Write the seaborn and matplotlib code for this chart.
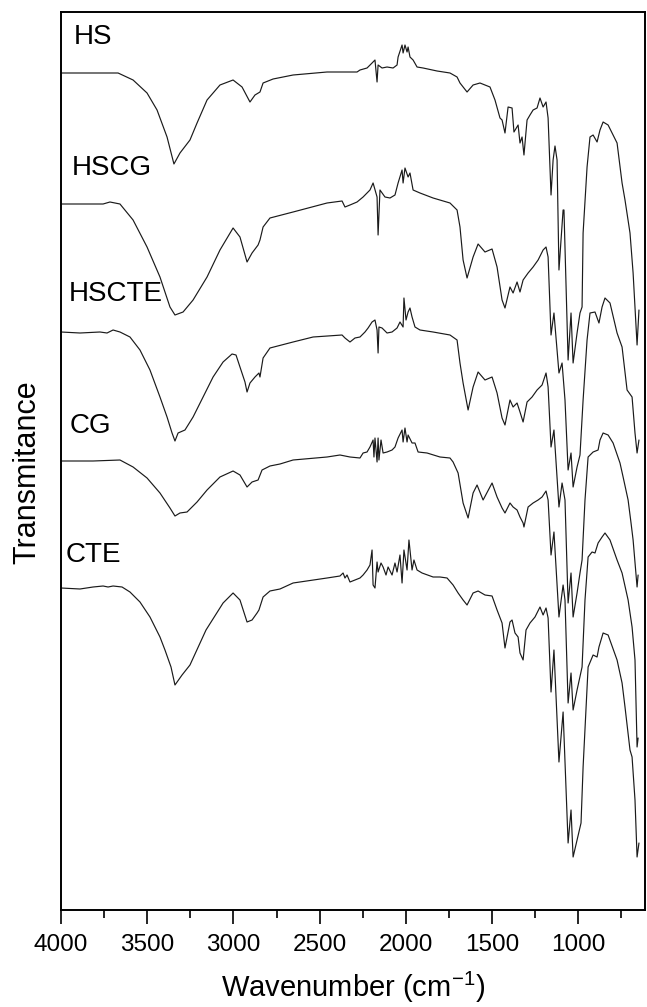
import numpy as np
import pandas as pd
import matplotlib
matplotlib.use("Agg")
import matplotlib.pyplot as plt
import seaborn as sns

# ---------------- data ----------------
hs_wn = [4000, 3850, 3669, 3582, 3501, 3443, 3385, 3345, 3310, 3252, 3211, 3153, 3078, 3002, 2950, 2904,
         2875, 2846, 2828, 2770, 2654, 2457, 2364, 2283, 2266, 2225, 2196, 2179, 2167, 2161, 2138, 2109,
         2074, 2051, 2045, 2022, 2016, 2005, 1993, 1987, 1976, 1958, 1935, 1900, 1819, 1744, 1703, 1686,
         1645, 1610, 1570, 1512, 1483, 1454, 1442, 1425, 1407, 1384, 1373, 1349, 1338, 1326, 1315, 1297,
         1280, 1262, 1239, 1222, 1204, 1187, 1175, 1158, 1146, 1135, 1123, 1112, 1088, 1083, 1059, 1042,
         1030, 1007, 990, 978, 972, 949, 932, 914, 891, 874, 856, 827, 775, 746, 729, 700, 682, 659, 648]
hs_t = [83.7, 83.7, 83.7, 83.0, 81.7, 80.0, 77.3, 74.6, 75.7, 77.0, 78.7, 81.0, 82.5, 83.0, 82.3, 80.8,
        81.5, 81.8, 82.7, 83.1, 83.5, 83.8, 83.8, 83.8, 84.0, 84.2, 84.7, 85.0, 82.8, 84.5, 84.2, 84.3,
        84.2, 84.5, 85.3, 86.5, 85.7, 86.5, 85.8, 86.3, 85.3, 85.0, 84.3, 84.2, 83.9, 83.7, 83.3, 82.7,
        81.8, 82.5, 82.7, 82.3, 81.0, 79.2, 79.0, 77.7, 80.3, 80.2, 77.8, 78.5, 76.7, 77.3, 75.5, 79.0,
        79.5, 80.0, 80.2, 81.2, 80.3, 80.8, 79.2, 71.5, 75.0, 76.4, 75.0, 64.0, 70.0, 70.0, 55.0, 59.7,
        54.7, 57.7, 59.7, 60.3, 67.7, 74.3, 77.3, 77.5, 76.8, 78.0, 78.8, 78.5, 76.7, 72.7, 71.0, 67.7,
        63.7, 56.5, 60.0]

hscg_wn = [4000, 3756, 3716, 3658, 3582, 3501, 3426, 3368, 3339, 3292, 3234, 3153, 3078, 3002, 2962, 2921,
           2892, 2857, 2846, 2828, 2788, 2654, 2457, 2370, 2353, 2324, 2283, 2248, 2208, 2190, 2167, 2161,
           2150, 2121, 2092, 2063, 2045, 2022, 2016, 2005, 1987, 1976, 1958, 1918, 1842, 1744, 1703, 1686,
           1668, 1645, 1610, 1581, 1541, 1500, 1471, 1442, 1425, 1396, 1378, 1355, 1338, 1320, 1291, 1262,
           1233, 1204, 1187, 1175, 1158, 1141, 1112, 1094, 1077, 1059, 1042, 1030, 1007, 990, 972, 949,
           932, 903, 880, 862, 845, 816, 775, 746, 717, 688, 671, 659, 648]
hscg_t = [70.6, 70.6, 70.8, 70.6, 69.0, 66.3, 63.3, 60.3, 59.5, 59.8, 61.0, 63.3, 66.0, 68.2, 67.3, 64.8,
          65.7, 66.5, 67.0, 68.3, 69.2, 69.8, 70.7, 70.9, 70.3, 70.5, 70.8, 71.3, 72.0, 72.7, 71.3, 67.5,
          72.0, 71.3, 71.2, 71.5, 72.7, 74.0, 72.7, 74.2, 73.3, 73.7, 72.0, 71.7, 71.2, 70.7, 70.0, 68.3,
          65.0, 63.2, 65.3, 66.6, 65.8, 66.1, 64.3, 61.0, 60.2, 62.3, 61.7, 62.8, 61.8, 63.0, 63.7, 64.3,
          65.0, 66.0, 66.3, 65.3, 57.5, 59.7, 53.7, 54.7, 51.0, 44.0, 45.7, 42.3, 44.3, 45.5, 51.0, 57.0,
          59.7, 59.8, 58.7, 60.3, 61.2, 60.7, 57.7, 56.3, 52.0, 51.3, 47.7, 45.7, 47.0]

hscte_wn = [4000, 3890, 3774, 3733, 3698, 3658, 3600, 3542, 3484, 3426, 3385, 3356, 3339, 3321, 3281, 3234,
            3176, 3118, 3060, 3008, 2985, 2962, 2933, 2921, 2904, 2875, 2852, 2846, 2828, 2788, 2654, 2538,
            2370, 2353, 2324, 2295, 2266, 2237, 2219, 2196, 2179, 2167, 2161, 2156, 2138, 2109, 2080, 2051,
            2034, 2016, 2011, 1999, 1987, 1976, 1964, 1947, 1918, 1842, 1744, 1703, 1686, 1668, 1639, 1610,
            1581, 1541, 1500, 1471, 1442, 1425, 1396, 1378, 1355, 1338, 1320, 1297, 1268, 1239, 1210, 1187,
            1175, 1158, 1141, 1112, 1094, 1077, 1059, 1042, 1030, 1007, 990, 978, 961, 943, 914, 885,
            874, 856, 827, 798, 758, 740, 711, 694, 682, 659, 653]
hscte_t = [57.8, 57.7, 57.8, 57.7, 58.0, 57.8, 57.3, 56.0, 54.0, 51.3, 49.3, 47.7, 46.9, 47.7, 48.0, 49.3,
           51.3, 53.3, 54.8, 55.6, 55.5, 54.3, 52.8, 51.8, 52.7, 53.3, 53.7, 53.3, 55.2, 56.2, 56.8, 57.3,
           57.5, 57.2, 56.8, 57.2, 57.3, 57.8, 58.2, 58.8, 59.0, 58.0, 55.7, 58.3, 58.2, 57.7, 57.8, 58.2,
           58.8, 58.3, 61.2, 59.0, 59.8, 60.2, 59.3, 58.3, 58.0, 57.8, 57.5, 57.0, 54.7, 52.7, 50.0, 52.3,
           53.8, 53.0, 53.3, 51.7, 49.2, 48.5, 51.0, 50.3, 50.7, 49.8, 48.8, 50.8, 51.3, 52.0, 52.5, 53.7,
           52.3, 46.3, 48.0, 40.3, 42.7, 41.0, 30.7, 33.7, 29.3, 31.7, 33.7, 35.0, 41.0, 45.3, 45.8, 46.0,
           47.0, 47.7, 47.5, 46.7, 44.7, 43.3, 41.0, 38.7, 37.0, 32.3, 33.5]

cg_wn = [4000, 3814, 3658, 3582, 3501, 3426, 3368, 3339, 3310, 3269, 3211, 3153, 3078, 3002, 2962, 2921,
         2892, 2857, 2834, 2788, 2730, 2654, 2457, 2382, 2324, 2266, 2248, 2225, 2208, 2190, 2185, 2179,
         2167, 2161, 2156, 2144, 2132, 2109, 2080, 2063, 2045, 2022, 2016, 2005, 1993, 1987, 1964, 1947,
         1929, 1877, 1802, 1744, 1726, 1697, 1668, 1639, 1610, 1587, 1552, 1500, 1471, 1442, 1425, 1396,
         1378, 1355, 1338, 1320, 1315, 1291, 1262, 1233, 1210, 1187, 1175, 1158, 1141, 1112, 1088, 1077,
         1059, 1042, 1030, 1007, 978, 961, 943, 920, 903, 885, 862, 845, 816, 775, 746, 711, 688, 671,
         659, 653]
cg_t = [44.9, 44.9, 45.0, 44.3, 43.2, 41.7, 40.2, 39.4, 39.7, 39.8, 40.8, 42.0, 43.3, 43.9, 43.5, 42.3,
        42.8, 43.0, 44.0, 44.4, 44.6, 45.0, 45.3, 45.5, 45.3, 45.2, 45.7, 45.8, 46.3, 47.0, 45.3, 47.2,
        44.8, 47.2, 45.0, 47.0, 45.7, 45.8, 46.0, 46.3, 47.2, 48.0, 46.8, 48.2, 46.8, 47.5, 46.7, 46.7,
        45.8, 45.7, 45.3, 45.2, 44.8, 43.7, 40.7, 39.2, 41.7, 42.5, 41.0, 42.7, 41.3, 40.2, 39.7, 40.7,
        40.3, 40.0, 39.3, 38.7, 38.3, 40.3, 40.7, 41.0, 41.3, 41.9, 41.0, 35.5, 37.8, 29.3, 32.5, 31.0,
        20.7, 23.7, 20.0, 22.0, 24.3, 31.0, 35.3, 35.8, 35.7, 36.7, 37.3, 37.7, 37.0, 35.0, 33.7, 31.0,
        28.3, 25.0, 16.3, 17.2]

cte_wn = [4000, 3890, 3814, 3756, 3727, 3698, 3646, 3600, 3542, 3484, 3426, 3397, 3362, 3339, 3298, 3252,
          3159, 3060, 3002, 2962, 2921, 2892, 2863, 2852, 2828, 2788, 2730, 2654, 2457, 2382, 2364, 2353,
          2341, 2324, 2295, 2266, 2248, 2225, 2208, 2196, 2190, 2179, 2167, 2161, 2144, 2132, 2115, 2103,
          2080, 2063, 2051, 2034, 2022, 2011, 1993, 1982, 1964, 1953, 1935, 1906, 1842, 1802, 1761, 1726,
          1697, 1668, 1645, 1610, 1581, 1541, 1500, 1471, 1442, 1425, 1396, 1384, 1367, 1349, 1338, 1320,
          1303, 1280, 1251, 1222, 1204, 1187, 1175, 1158, 1141, 1112, 1088, 1059, 1042, 1030, 1007, 984,
          972, 943, 914, 891, 880, 856, 827, 775, 746, 729, 700, 688, 671, 659, 648]
cte_t = [32.2, 32.1, 32.3, 32.4, 32.3, 32.4, 32.3, 31.8, 30.8, 29.3, 27.3, 26.0, 24.3, 22.5, 23.5, 24.5,
         28.0, 30.7, 31.7, 31.0, 28.8, 29.0, 29.7, 30.0, 31.3, 31.9, 32.1, 32.7, 33.2, 33.4, 33.7, 33.2,
         33.5, 32.8, 33.0, 33.2, 33.5, 34.0, 34.5, 36.0, 32.5, 32.2, 34.8, 33.8, 34.7, 34.3, 33.5, 34.3,
         33.5, 34.7, 33.8, 35.5, 32.7, 36.0, 34.0, 37.0, 34.0, 35.0, 34.0, 33.7, 33.3, 33.3, 33.2, 32.5,
         31.7, 31.0, 30.5, 31.7, 31.9, 31.5, 31.4, 30.0, 28.7, 26.2, 28.8, 29.0, 27.7, 27.3, 25.7, 25.0,
         28.0, 28.7, 29.3, 30.3, 29.5, 30.2, 29.2, 21.8, 26.0, 14.8, 19.8, 6.7, 10.0, 5.3, 7.0, 8.7,
         14.3, 24.3, 25.5, 25.3, 26.3, 27.7, 27.5, 25.0, 22.7, 20.3, 16.0, 15.3, 11.0, 5.3, 6.7]

sample_names = ["HS", "HSCG", "HSCTE", "CG", "CTE"]
label_wn = [3925, 3936, 3954, 3948, 3971]
label_t = [87.3, 74.2, 61.6, 48.4, 35.5]
xtick_values = [4000, 3500, 3000, 2500, 2000, 1500, 1000]

# ---------------- figure ----------------
sns.set_style("ticks")
plt.rcParams["font.family"] = ["Liberation Sans", "DejaVu Sans"]
plt.rcParams["mathtext.fontset"] = "custom"
plt.rcParams["mathtext.rm"] = "Liberation Sans"
plt.rcParams["mathtext.it"] = "Liberation Sans"
plt.rcParams["text.color"] = "black"
plt.rcParams["axes.labelcolor"] = "black"
plt.rcParams["xtick.color"] = "black"

fig = plt.figure(figsize=(6.47, 10.07), dpi=100)
ax = fig.add_axes([61 / 647, 97 / 1007, 584 / 647, 898 / 1007])

series = [(hs_wn, hs_t), (hscg_wn, hscg_t), (hscte_wn, hscte_t), (cg_wn, cg_t), (cte_wn, cte_t)]
for name, (wn, t) in zip(sample_names, series):
    df = pd.DataFrame({"wn": wn, "T": t})
    sns.lineplot(data=df, x="wn", y="T", ax=ax, color="#1a1a1a", linewidth=0.85,
                 sort=False, estimator=None)

for name, x, y in zip(sample_names, label_wn, label_t):
    ax.text(x, y, name, fontsize=20, ha="left", va="center", color="black")

ax.set_xlim(4000, 613)
ax.set_ylim(0, 89.8)
ax.set_xticks(xtick_values)
ax.set_xticklabels([str(v) for v in xtick_values])
ax.xaxis.set_minor_locator(matplotlib.ticker.MultipleLocator(250))
ax.set_yticks([])
ax.tick_params(axis="x", which="major", direction="out", length=10, width=1.2,
               labelsize=17.5, pad=7, colors="black")
ax.tick_params(axis="x", which="minor", direction="out", length=5.5, width=1.2)
for sp in ax.spines.values():
    sp.set_visible(True)
    sp.set_linewidth(1.4)
    sp.set_color("black")

ax.set_xlabel("Wavenumber (cm$^{\\mathregular{-1}}$)", fontsize=21, labelpad=10)
ax.set_ylabel("Transmitance", fontsize=22, va="center")
ax.yaxis.set_label_coords(-0.058, 0.488)

fig.savefig("out.png", dpi=100)
